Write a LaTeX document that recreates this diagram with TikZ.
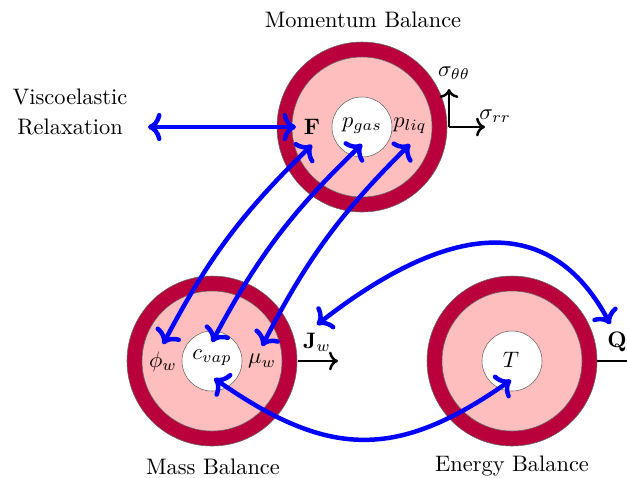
\documentclass[tikz,border=0pt]{standalone}
\usetikzlibrary{arrows.meta}
\definecolor{ringdark}{RGB}{185,0,60}
\definecolor{ringlight}{RGB}{255,190,190}
\begin{document}
\begin{tikzpicture}[x=0.4464pt,y=0.4464pt,
  outerdisk/.style={fill=ringdark},
  innerdisk/.style={fill=ringlight},
  coredisk/.style={fill=white},
  link/.style={blue,line width=2pt,line cap=round,<->},
  flux/.style={black,line width=1.1pt,->},
  lbl/.style={inner sep=3.33pt}]
\useasboundingbox (0,0) rectangle (627,477);
% circles
\foreach \cx/\cy/\nm in {362/350/mom,212/116/mass,512/116/en}{
  \fill[outerdisk] (\cx,\cy) circle (85);
  \fill[innerdisk] (\cx,\cy) circle (70);
  \fill[coredisk] (\cx,\cy) circle (30);
  \draw[gray!80!black,line width=0.25pt] (\cx,\cy) circle (85) (\cx,\cy) circle (70) (\cx,\cy) circle (30);
}
% titles
\node (tmom) at (363,457) {Momentum Balance};
\node (tmass) at (213,10) {Mass Balance};
\node (ten) at (512,11) {Energy Balance};
\node[align=center] (visco) at (70,365) {Viscoelastic\\[1.4pt]Relaxation};
\coordinate (vr) at (148,350);
% labels
\node[lbl] (F) at (312,350) {$\mathbf{F}$};
\node[lbl] (pgas) at (362,351) {$p_{gas}$};
\node[lbl] (pliq) at (410,351) {$p_{liq}$};
\node[lbl] (phi) at (163,115) {$\phi_w$};
\node[lbl] (cvap) at (212,119) {$c_{vap}$};
\node[lbl] (mu) at (262,116) {$\mu_w$};
\node[lbl] (Jw) at (317,135) {$\mathbf{J}_w$};
\node[lbl] (Q) at (617,135) {$\mathbf{Q}$};
\node[lbl] (T) at (511,117) {$T$};
\node (sth) at (454,404) {$\sigma_{\theta\theta}$};
\node (srr) at (495,361) {$\sigma_{rr}$};
% black flux arrows
\coordinate (so) at (449,350);
\coordinate (sv) at (449,388);
\coordinate (sh) at (485,350);
\draw[flux] (so) -- (sv);
\draw[flux] (so) -- (sh);
\coordinate (j0) at (298,116);
\coordinate (j1) at (338,116);
\draw[flux] (j0) -- (j1);
\coordinate (q0) at (597,116);
\coordinate (q1) at (627,116);
\draw[black,line width=1.1pt] (q0) -- (q1);
% blue links
\draw[link] (vr) -- (F.west);
\draw[link] (phi.north) to[bend left=9] ([yshift=-1pt]F.south);
\draw[link] (cvap.north) to[bend left=9] ([yshift=-1pt]pgas.south);
\draw[link] (mu.north) to[bend left=9] ([yshift=-1pt]pliq.south);
\draw[link] (Jw.north) to[out=38,in=118,looseness=1.25] ([xshift=-3pt]Q.north);
\draw[link] ([xshift=1pt,yshift=-2pt]cvap.south) to[out=-35,in=-145,looseness=1.2] ([yshift=-2pt]T.south);
\end{tikzpicture}
\end{document}
